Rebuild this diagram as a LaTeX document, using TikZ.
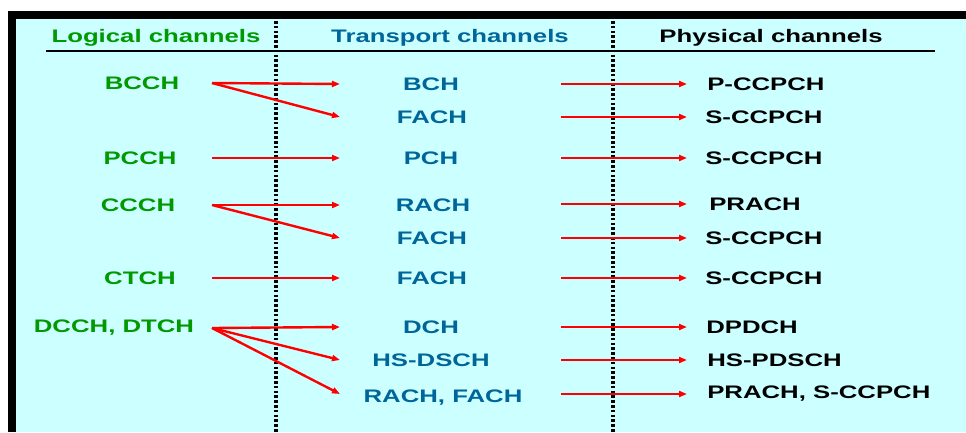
\documentclass[tikz,border=0pt]{standalone}
\usepackage{fontspec}
\setmainfont{Liberation Sans}[FakeStretch=1.42]
\usetikzlibrary{arrows.meta}
\definecolor{logicgreen}{RGB}{0,153,0}
\definecolor{transblue}{RGB}{0,102,153}
\definecolor{panel}{RGB}{204,255,255}
\tikzset{
	lab/.style={font=\fontsize{13.6}{16}\selectfont\bfseries,inner sep=0pt},
	logic/.style={lab,text=logicgreen},
	transp/.style={lab,text=transblue},
	phys/.style={lab,text=black,anchor=west},
	chan/.style={red,line width=1.8pt,-{Triangle[length=6pt,width=4.5pt]}},
	sep/.style={line width=2.4pt,dash pattern=on 2pt off 1.6pt}
}
\begin{document}
\begin{tikzpicture}[x=0.75pt,y=-0.75pt]
			\useasboundingbox (0,0) rectangle (966,432);
			%Frame
			\fill[black] (8,11) rectangle (966,432);
			\fill[panel] (16,19) rectangle (966,432);
			%Column separators
			\draw[sep] (276,21) -- (276,432);
			\draw[sep] (613,21) -- (613,432);
			%Header
			\node[logic,anchor=base] (hLog) at (156,42) {Logical channels};
			\node[transp,anchor=base] (hTra) at (450,42) {Transport channels};
			\node[lab,anchor=base] (hPhy) at (771,42) {Physical channels};
			\draw[line width=1.5pt] (46,51) -- (935,51);
			%Arrow columns
			\coordinate (lx) at (212,0);
			\coordinate (tin) at (340,0);
			\coordinate (tout) at (561,0);
			\coordinate (pin) at (687,0);
			%Logical channels
			\node[logic] (lBCCH) at (142,83) {BCCH};
			\node[logic] (lPCCH) at (140,158) {PCCH};
			\node[logic] (lCCCH) at (138,205) {CCCH};
			\node[logic] (lCTCH) at (140,278) {CTCH};
			\node[logic] (lDCCH) at (114,328) {DCCH, DTCH};
			%Transport channels
			\node[transp] (tBCH) at (431,84) {BCH};
			\node[transp] (tFACHa) at (432,117) {FACH};
			\node[transp] (tPCH) at (431,158) {PCH};
			\node[transp] (tRACH) at (433,205) {RACH};
			\node[transp] (tFACHb) at (432,238) {FACH};
			\node[transp] (tFACHc) at (432,278) {FACH};
			\node[transp] (tDCH) at (431,327) {DCH};
			\node[transp] (tHSDSCH) at (431,360) {HS-DSCH};
			\node[transp] (tRF) at (443,398) {RACH, FACH};
			%Physical channels
			\node[phys] (pPCCPCH) at (707,84) {P-CCPCH};
			\node[phys] (pSa) at (705,117) {S-CCPCH};
			\node[phys] (pSb) at (705,158) {S-CCPCH};
			\node[phys] (pPRACH) at (709,204) {PRACH};
			\node[phys] (pSc) at (705,238) {S-CCPCH};
			\node[phys] (pSd) at (705,278) {S-CCPCH};
			\node[phys] (pDPDCH) at (706,327) {DPDCH};
			\node[phys] (pHSPDSCH) at (707,360) {HS-PDSCH};
			\node[phys] (pPRS) at (707,394) {PRACH, S-CCPCH};
			%Mapping
			\foreach \l/\t in {lBCCH/tBCH,lBCCH/tFACHa,lPCCH/tPCH,lCCCH/tRACH,lCCCH/tFACHb,lCTCH/tFACHc,lDCCH/tDCH,lDCCH/tHSDSCH}
				{
					\draw[chan] (\l.center -| lx) -- (\t.center -| tin);
				}
			\draw[chan] (lDCCH.center -| lx) -- (pPRS.center -| tin);
			\foreach \t/\p in {tBCH/pPCCPCH,tFACHa/pSa,tPCH/pSb,tRACH/pPRACH,tFACHb/pSc,tFACHc/pSd,tDCH/pDPDCH,tHSDSCH/pHSPDSCH,tRF/pPRS}
				{
					\draw[chan] (\p.center -| tout) -- (\p.center -| pin);
				}
\end{tikzpicture}
\end{document}
